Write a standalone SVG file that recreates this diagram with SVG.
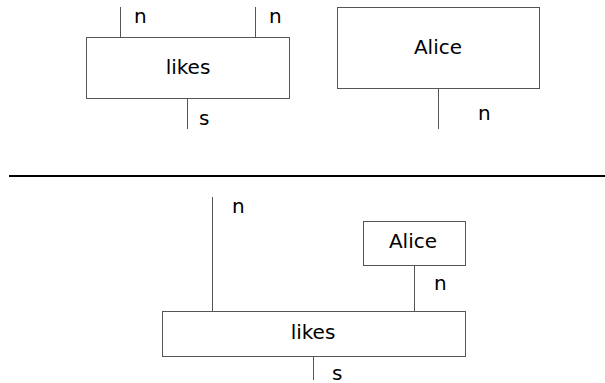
<svg xmlns="http://www.w3.org/2000/svg" width="605" height="383" viewBox="0 0 605 383">
<style>
.box{fill:#fff;stroke:#555;stroke-width:1}
.w{stroke:#555;stroke-width:1;fill:none}
text{font-family:"DejaVu Sans",sans-serif;font-size:20px;fill:#000}
.c{text-anchor:middle}
</style>
<rect width="605" height="383" fill="#fff"/>
<g id="connectors">
<line class="w" x1="120.5" y1="7" x2="120.5" y2="37"/>
<line class="w" x1="255.5" y1="7" x2="255.5" y2="37"/>
<line class="w" x1="187.5" y1="98" x2="187.5" y2="129"/>
<line class="w" x1="438.5" y1="88" x2="438.5" y2="129"/>
<line class="w" x1="212.5" y1="197" x2="212.5" y2="311"/>
<line class="w" x1="414.5" y1="265" x2="414.5" y2="311"/>
<line class="w" x1="313.5" y1="356" x2="313.5" y2="380"/>
<line x1="9" y1="176" x2="605" y2="176" stroke="#000" stroke-width="2"/>
</g>
<g id="likes-top">
<rect class="box" x="86.5" y="37.5" width="203" height="61"/>
<text class="c" x="188" y="74">likes</text>
</g>
<g id="alice-top">
<rect class="box" x="337.5" y="7.5" width="202" height="81"/>
<text class="c" x="438" y="54">Alice</text>
</g>
<g id="alice-bottom">
<rect class="box" x="363.5" y="221.5" width="102" height="44"/>
<text class="c" x="413" y="248">Alice</text>
</g>
<g id="likes-bottom">
<rect class="box" x="162.5" y="311.5" width="303" height="45"/>
<text class="c" x="313" y="339">likes</text>
</g>
<g id="labels">
<text x="134" y="23">n</text>
<text x="269" y="23">n</text>
<text x="199" y="125">s</text>
<text x="478" y="120">n</text>
<text x="232" y="213">n</text>
<text x="434" y="290">n</text>
<text x="332" y="380">s</text>
</g>
</svg>
